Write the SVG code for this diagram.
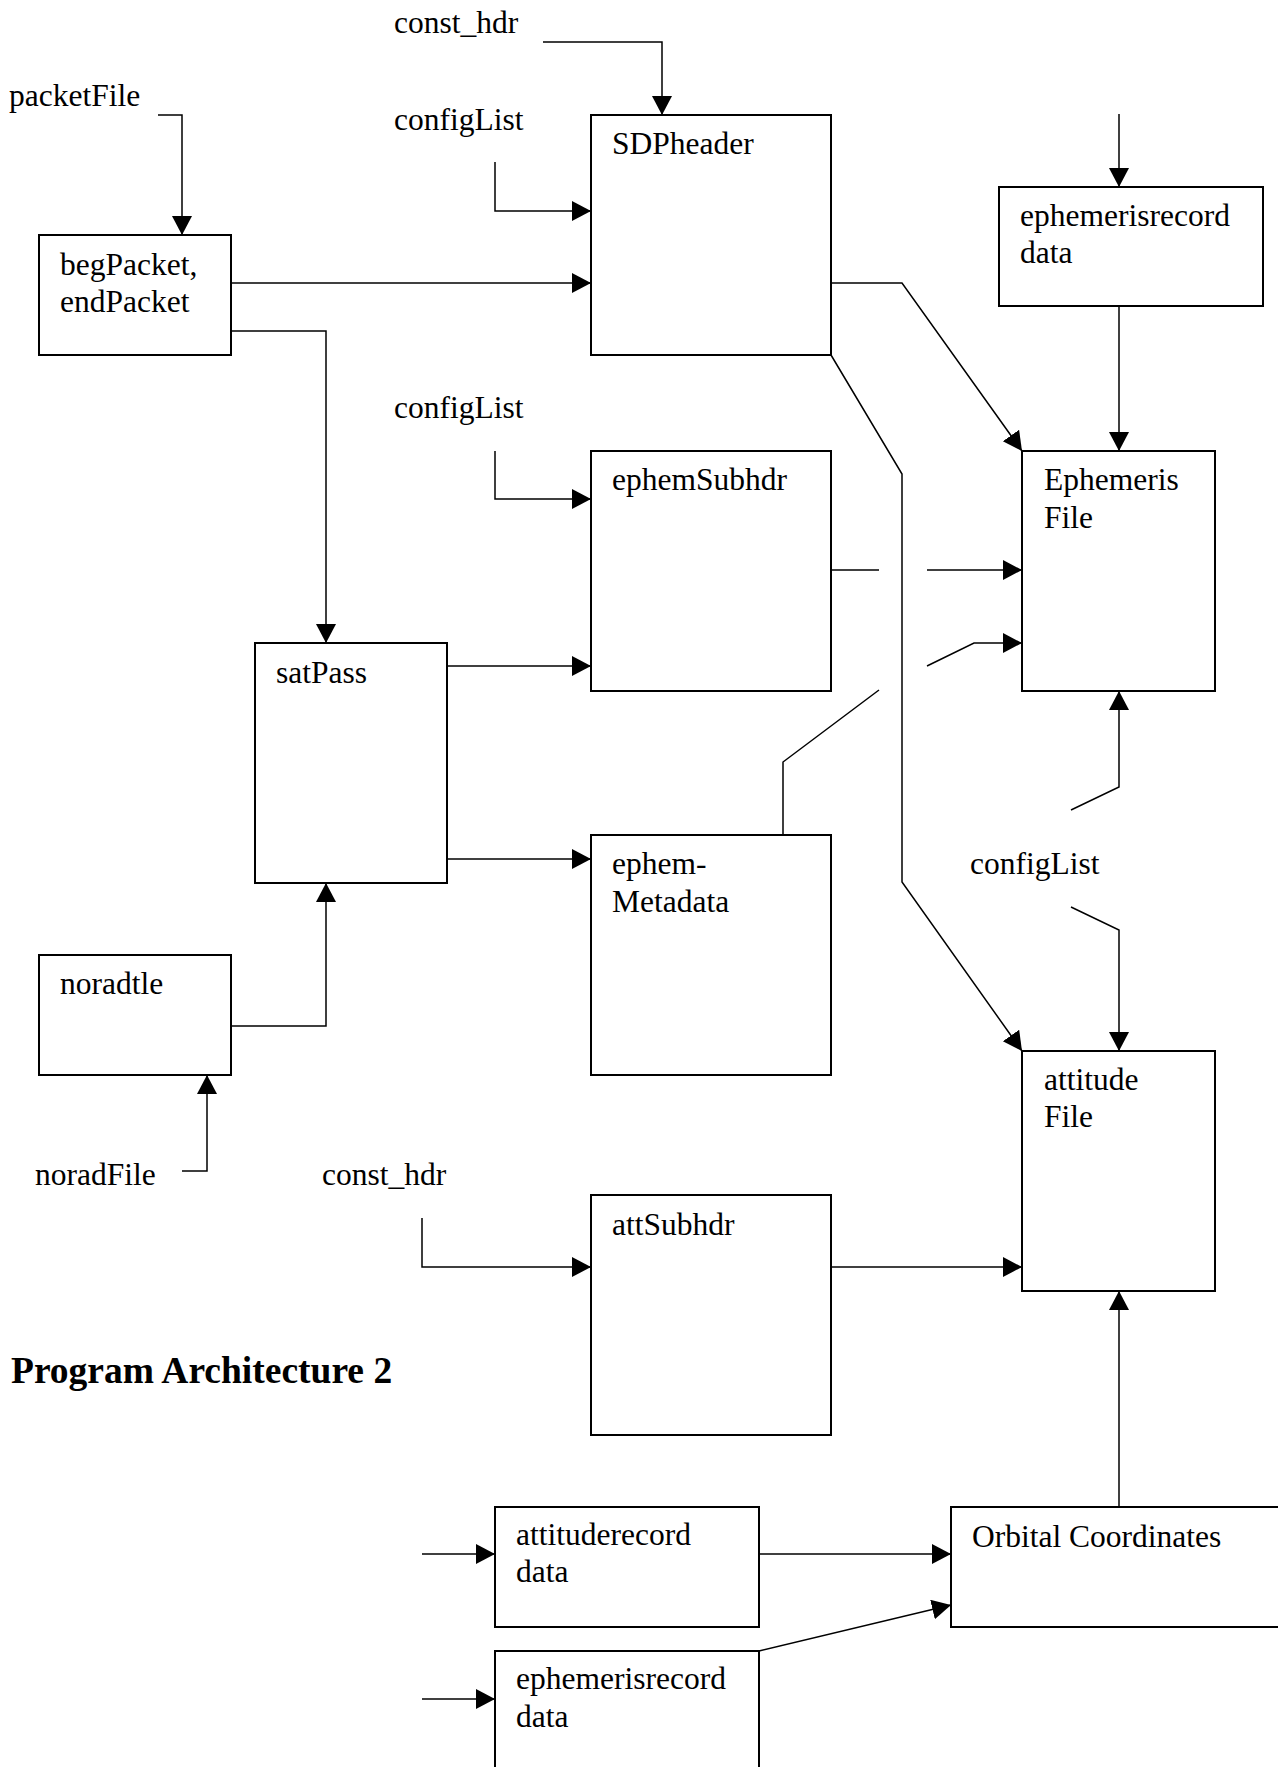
<svg xmlns="http://www.w3.org/2000/svg" width="1278" height="1767" viewBox="0 0 1278 1767">
  <style>
    .box { fill: #fff; stroke: #000; stroke-width: 2; }
    .lbl { font-family: "Liberation Serif", "Times New Roman", serif; font-size: 31.5px; fill: #000; }
    .title { font-family: "Liberation Serif", "Times New Roman", serif; font-size: 37.5px; font-weight: bold; fill: #000; }
    .wire { fill: none; stroke: #000; stroke-width: 1.5; }
  </style>
  <defs>
    <marker id="arrow" markerUnits="userSpaceOnUse" markerWidth="20" markerHeight="21" refX="19" refY="10" orient="auto">
      <path d="M0,0 L19,10 L0,20 z" fill="#000"/>
    </marker>
  </defs>
  <rect width="1278" height="1767" fill="#fff"/>

  <!-- free labels -->
  <g id="labels">
    <text class="lbl" x="394" y="33">const_hdr</text>
    <text class="lbl" x="9" y="106">packetFile</text>
    <text class="lbl" x="394" y="130">configList</text>
    <text class="lbl" x="394" y="418">configList</text>
    <text class="lbl" x="970" y="874">configList</text>
    <text class="lbl" x="35" y="1185">noradFile</text>
    <text class="lbl" x="322" y="1185">const_hdr</text>
    <text class="title" x="11" y="1383">Program Architecture 2</text>
  </g>

  <!-- nodes -->
  <g id="begPacket">
    <rect class="box" x="39" y="235" width="192" height="120"/>
    <text class="lbl" x="60" y="275">begPacket,</text>
    <text class="lbl" x="60" y="312">endPacket</text>
  </g>
  <g id="SDPheader">
    <rect class="box" x="591" y="115" width="240" height="240"/>
    <text class="lbl" x="612" y="154">SDPheader</text>
  </g>
  <g id="ephemerisrecord-top">
    <rect class="box" x="999" y="187" width="264" height="119"/>
    <text class="lbl" x="1020" y="226">ephemerisrecord</text>
    <text class="lbl" x="1020" y="263">data</text>
  </g>
  <g id="ephemSubhdr">
    <rect class="box" x="591" y="451" width="240" height="240"/>
    <text class="lbl" x="612" y="490">ephemSubhdr</text>
  </g>
  <g id="ephemerisFile">
    <rect class="box" x="1022" y="451" width="193" height="240"/>
    <text class="lbl" x="1044" y="490">Ephemeris</text>
    <text class="lbl" x="1044" y="528">File</text>
  </g>
  <g id="satPass">
    <rect class="box" x="255" y="643" width="192" height="240"/>
    <text class="lbl" x="276" y="683">satPass</text>
  </g>
  <g id="ephemMetadata">
    <rect class="box" x="591" y="835" width="240" height="240"/>
    <text class="lbl" x="612" y="874">ephem-</text>
    <text class="lbl" x="612" y="912">Metadata</text>
  </g>
  <g id="noradtle">
    <rect class="box" x="39" y="955" width="192" height="120"/>
    <text class="lbl" x="60" y="994">noradtle</text>
  </g>
  <g id="attitudeFile">
    <rect class="box" x="1022" y="1051" width="193" height="240"/>
    <text class="lbl" x="1044" y="1090">attitude</text>
    <text class="lbl" x="1044" y="1127">File</text>
  </g>
  <g id="attSubhdr">
    <rect class="box" x="591" y="1195" width="240" height="240"/>
    <text class="lbl" x="612" y="1235">attSubhdr</text>
  </g>
  <g id="attituderecord">
    <rect class="box" x="495" y="1507" width="264" height="120"/>
    <text class="lbl" x="516" y="1545">attituderecord</text>
    <text class="lbl" x="516" y="1582">data</text>
  </g>
  <g id="ephemerisrecord-bottom">
    <rect class="box" x="495" y="1651" width="264" height="140"/>
    <text class="lbl" x="516" y="1689">ephemerisrecord</text>
    <text class="lbl" x="516" y="1727">data</text>
  </g>
  <g id="orbitalCoordinates">
    <rect class="box" x="951" y="1507" width="340" height="120"/>
    <text class="lbl" x="972" y="1547">Orbital Coordinates</text>
  </g>

  <!-- connectors -->
  <g id="connectors">
    <path class="wire" d="M543,42 H662 V115" marker-end="url(#arrow)"/>
    <path class="wire" d="M158,115 H182 V235" marker-end="url(#arrow)"/>
    <path class="wire" d="M495,162 V211 H591" marker-end="url(#arrow)"/>
    <path class="wire" d="M231,283 H591" marker-end="url(#arrow)"/>
    <path class="wire" d="M231,331 H326 V643" marker-end="url(#arrow)"/>
    <path class="wire" d="M831,283 H902 L1022,451" marker-end="url(#arrow)"/>
    <path class="wire" d="M831,355 L902,474 V882 L1022,1051" marker-end="url(#arrow)"/>
    <path class="wire" d="M1119,114 V187" marker-end="url(#arrow)"/>
    <path class="wire" d="M1119,306 V451" marker-end="url(#arrow)"/>
    <path class="wire" d="M495,451 V499 H591" marker-end="url(#arrow)"/>
    <path class="wire" d="M831,570 H879"/>
    <path class="wire" d="M927,570 H1022" marker-end="url(#arrow)"/>
    <path class="wire" d="M783,835 V762 L879,690"/>
    <path class="wire" d="M927,666 L974,643 H1022" marker-end="url(#arrow)"/>
    <path class="wire" d="M1071,810 L1119,787 V691" marker-end="url(#arrow)"/>
    <path class="wire" d="M447,666 H591" marker-end="url(#arrow)"/>
    <path class="wire" d="M447,859 H591" marker-end="url(#arrow)"/>
    <path class="wire" d="M231,1026 H326 V883" marker-end="url(#arrow)"/>
    <path class="wire" d="M182,1171 H207 V1075" marker-end="url(#arrow)"/>
    <path class="wire" d="M1071,907 L1119,930 V1051" marker-end="url(#arrow)"/>
    <path class="wire" d="M422,1218 V1267 H591" marker-end="url(#arrow)"/>
    <path class="wire" d="M831,1267 H1022" marker-end="url(#arrow)"/>
    <path class="wire" d="M1119,1507 V1291" marker-end="url(#arrow)"/>
    <path class="wire" d="M422,1554 H495" marker-end="url(#arrow)"/>
    <path class="wire" d="M759,1554 H951" marker-end="url(#arrow)"/>
    <path class="wire" d="M422,1699 H495" marker-end="url(#arrow)"/>
    <path class="wire" d="M759,1651 L951,1605" marker-end="url(#arrow)"/>
  </g>
</svg>
